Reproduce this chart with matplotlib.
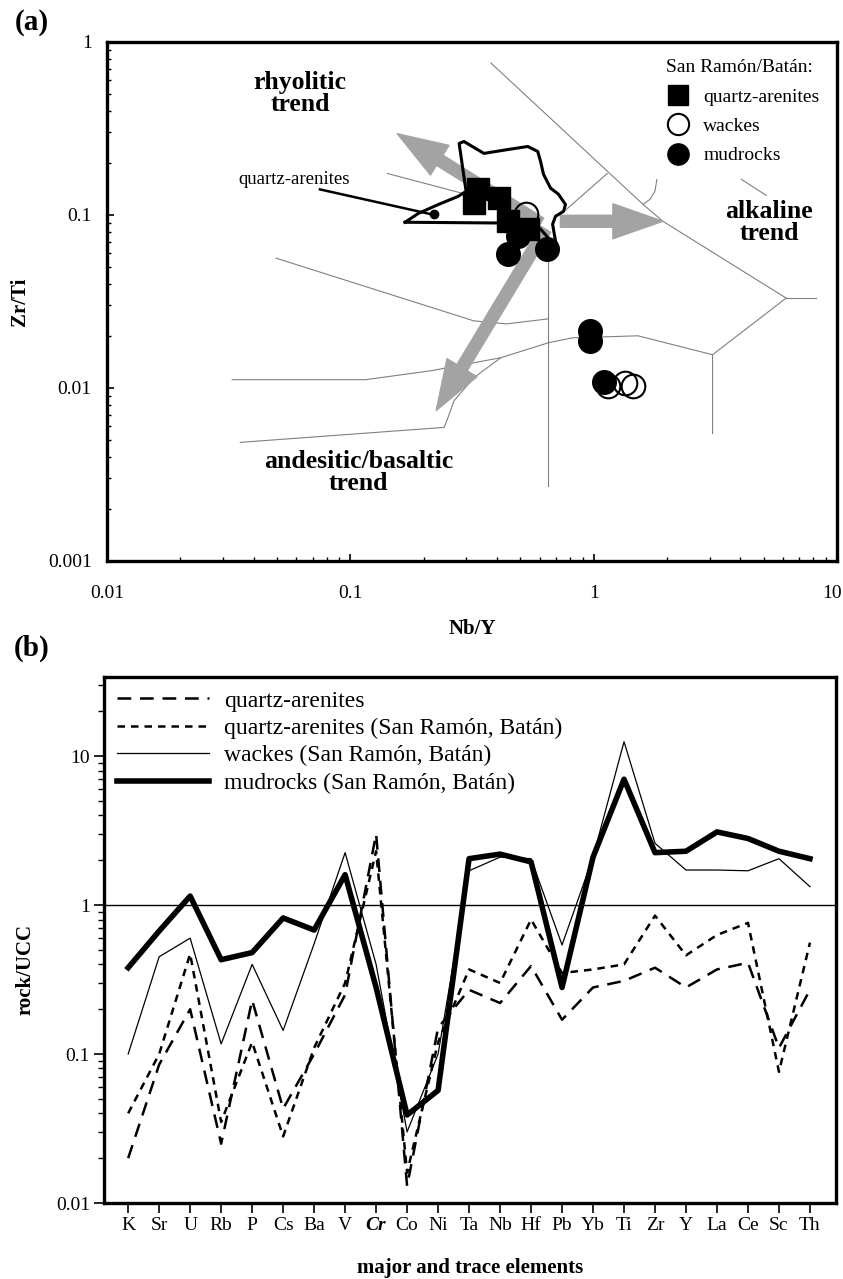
import matplotlib.pyplot as plt
import matplotlib.transforms as mtransforms
from matplotlib.ticker import FixedLocator, FixedFormatter, LogLocator, NullFormatter

plt.rcParams['font.family'] = ['Liberation Serif', 'DejaVu Serif']

# ---------------- (a) Nb/Y vs Zr/Ti ----------------
qa_nby = [0.334, 0.407, 0.322, 0.444, 0.536]
qa_zrti = [0.141, 0.125, 0.117, 0.092, 0.083]
wk_nby = [0.525, 1.15, 1.35, 1.45]
wk_zrti = [0.102, 0.0103, 0.0107, 0.0103]
md_nby = [0.488, 0.444, 0.645, 0.968, 0.968, 1.10]
md_zrti = [0.0754, 0.0594, 0.0635, 0.0214, 0.0188, 0.0109]

# average quartz-arenite and its field
qa_avg_nby = [0.221]
qa_avg_zrti = [0.101]
field_nby = [0.168, 0.190, 0.230, 0.277, 0.299, 0.280, 0.293, 0.354, 0.444, 0.536, 0.589, 0.605,
             0.622, 0.665, 0.716, 0.766, 0.752, 0.697, 0.678, 0.697, 0.716, 0.605, 0.551, 0.168]
field_zrti = [0.0908, 0.102, 0.115, 0.128, 0.137, 0.259, 0.266, 0.227, 0.239, 0.249, 0.233, 0.204,
              0.172, 0.143, 0.132, 0.115, 0.105, 0.0983, 0.0884, 0.0706, 0.0635, 0.0828, 0.0896, 0.0908]
leader_nby = [0.075, 0.215]
leader_zrti = [0.1406, 0.101]

# field boundaries of the diagram
bnd_upper_x = [0.378, 1.595, 1.925, 6.18]
bnd_upper_y = [0.757, 0.1152, 0.0920, 0.0331]
bnd_alk_x = [6.18, 8.20]
bnd_alk_y = [0.0331, 0.0331]
bnd_right_x = [6.18, 3.08, 3.08]
bnd_right_y = [0.0331, 0.01557, 0.00546]
bnd_lower_x = [3.08, 1.521, 0.818, 0.652, 0.415, 0.322, 0.267, 0.252, 0.243, 0.0353]
bnd_lower_y = [0.01557, 0.02003, 0.0195, 0.01826, 0.01496, 0.01148, 0.00846, 0.00675, 0.00592, 0.00485]
bnd_and_x = [0.0327, 0.1155, 0.215, 0.415]
bnd_and_y = [0.01117, 0.01117, 0.01259, 0.01496]
bnd_mid_x = [0.0495, 0.322, 0.439, 0.652]
bnd_mid_y = [0.0563, 0.02443, 0.02348, 0.0251]
bnd_vert_x = [0.652, 0.652]
bnd_vert_y = [0.0602, 0.00271]
bnd_rhy_x = [0.142, 0.55]
bnd_rhy_y = [0.1738, 0.105]
bnd_tr_x = [1.137, 0.765]
bnd_tr_y = [0.1738, 0.1064]
bnd_arc_x = [1.819, 1.785, 1.703, 1.595]
bnd_arc_y = [0.1605, 0.1369, 0.1231, 0.1152]
bnd_ph_x = [4.05, 5.12]
bnd_ph_y = [0.1605, 0.1299]

boundaries = [(bnd_upper_x, bnd_upper_y), (bnd_alk_x, bnd_alk_y), (bnd_right_x, bnd_right_y),
              (bnd_lower_x, bnd_lower_y), (bnd_and_x, bnd_and_y), (bnd_mid_x, bnd_mid_y),
              (bnd_vert_x, bnd_vert_y), (bnd_rhy_x, bnd_rhy_y), (bnd_tr_x, bnd_tr_y),
              (bnd_arc_x, bnd_arc_y), (bnd_ph_x, bnd_ph_y)]

# trend arrows (start, end)
arrow_start = [(0.605, 0.0896), (0.730, 0.092), (0.634, 0.0828)]
arrow_end = [(0.156, 0.295), (1.925, 0.092), (0.2253, 0.00741)]

# ---------------- (b) UCC-normalised patterns ----------------
elements = ['K', 'Sr', 'U', 'Rb', 'P', 'Cs', 'Ba', 'V', 'Cr', 'Co', 'Ni', 'Ta', 'Nb', 'Hf',
            'Pb', 'Yb', 'Ti', 'Zr', 'Y', 'La', 'Ce', 'Sc', 'Th']
qa_ref = [0.02, 0.085, 0.20, 0.025, 0.23, 0.043, 0.10, 0.25, 3.0, 0.013, 0.15, 0.27, 0.22, 0.39,
          0.17, 0.28, 0.31, 0.38, 0.28, 0.37, 0.41, 0.11, 0.27]
qa_srb = [0.04, 0.10, 0.47, 0.035, 0.12, 0.028, 0.11, 0.30, 2.3, 0.016, 0.12, 0.37, 0.30, 0.80,
          0.35, 0.37, 0.40, 0.85, 0.46, 0.63, 0.76, 0.076, 0.56]
wk_srb = [0.10, 0.45, 0.60, 0.117, 0.40, 0.144, 0.55, 2.25, 0.40, 0.03, 0.10, 1.7, 2.1, 2.05,
          0.54, 2.1, 12.5, 2.6, 1.72, 1.72, 1.70, 2.05, 1.33]
md_srb = [0.38, 0.67, 1.15, 0.43, 0.48, 0.82, 0.68, 1.6, 0.28, 0.039, 0.057, 2.05, 2.2, 1.95,
          0.28, 2.1, 7.0, 2.25, 2.3, 3.1, 2.8, 2.3, 2.05]

fig = plt.figure(figsize=(8.43, 12.79), dpi=100)
ax1 = fig.add_axes([107/843, 1-561/1279, 730/843, 519/1279])
ax2 = fig.add_axes([104/843, 1-1203/1279, 732/843, 526/1279])

# ---- panel (a)
for bx, by in boundaries:
    ax1.plot(bx, by, color='#808080', lw=0.8, zorder=1)

for s, e in zip(arrow_start, arrow_end):
    ax1.annotate('', xy=e, xytext=s,
                 arrowprops=dict(arrowstyle='simple,head_length=1.5,head_width=1.05,tail_width=0.36',
                                 color='#a3a3a3', shrinkA=0, shrinkB=0, mutation_scale=24),
                 zorder=2)

ax1.plot(field_nby, field_zrti, color='black', lw=2.2, solid_joinstyle='round', zorder=3)
ax1.plot(qa_avg_nby, qa_avg_zrti, 'o', color='black', ms=6, zorder=3)
ax1.plot(leader_nby, leader_zrti, color='black', lw=1.8, zorder=3)
ax1.text(0.0586, 0.1606, 'quartz-arenites', ha='center', va='center', fontsize=13.5)

ax1.plot(qa_nby, qa_zrti, 's', color='black', ms=16, zorder=4, label='quartz-arenites')
ax1.plot(md_nby, md_zrti, 'o', color='black', ms=17, zorder=5, label='mudrocks')
ax1.plot(wk_nby, wk_zrti, 'o', mfc='none', mec='black', mew=1.5, ms=17, zorder=6, label='wackes')

ax1.text(0.0621, 0.502, 'rhyolitic\ntrend', ha='center', va='center', fontsize=18.5,
         fontweight='bold', linespacing=0.95)
ax1.text(5.27, 0.0908, 'alkaline\ntrend', ha='center', va='center', fontsize=18.5,
         fontweight='bold', linespacing=0.95)
ax1.text(0.108, 0.00326, 'andesitic/basaltic\ntrend', ha='center', va='center', fontsize=18.5,
         fontweight='bold', linespacing=0.95)

ax1.set_xscale('log')
ax1.set_yscale('log')
ax1.set_xlim(0.01, 10)
ax1.set_ylim(0.001, 1)
ax1.xaxis.set_major_locator(FixedLocator([0.01, 0.1, 1, 10]))
ax1.xaxis.set_major_formatter(FixedFormatter(['0.01', '0.1', '1', '10']))
ax1.yaxis.set_major_locator(FixedLocator([0.001, 0.01, 0.1, 1]))
ax1.yaxis.set_major_formatter(FixedFormatter(['0.001', '0.01', '0.1', '1']))
for axis in (ax1.xaxis, ax1.yaxis):
    axis.set_minor_locator(LogLocator(base=10, subs=range(2, 10)))
    axis.set_minor_formatter(NullFormatter())
ax1.tick_params(which='major', direction='in', length=5, width=1.2, labelsize=14)
ax1.tick_params(axis='x', which='major', pad=17)
ax1.tick_params(axis='y', which='major', pad=11)
ax1.tick_params(which='minor', direction='in', length=3, width=1.0)
for sp in ax1.spines.values():
    sp.set_linewidth(2.4)
# keep the "10" label inside the figure
fig.canvas.draw()
last = ax1.get_xticklabels()[-1]
last.set_transform(last.get_transform() + mtransforms.ScaledTranslation(-5/100, 0, fig.dpi_scale_trans))

ax1.set_xlabel('Nb/Y', fontsize=15, fontweight='bold')
ax1.xaxis.set_label_coords(0.5, -0.112)
ax1.set_ylabel('Zr/Ti', fontsize=15, fontweight='bold')
ax1.yaxis.set_label_coords(-0.105, 0.5)

h, l = ax1.get_legend_handles_labels()
order = [0, 2, 1]
ax1.legend([h[i] for i in order], [l[i] for i in order], title='San Ramón/Batán:',
           loc='upper right', frameon=False, fontsize=14, title_fontsize=14,
           markerscale=0.9, handletextpad=0.3, labelspacing=0.6, borderaxespad=0.5)

# ---- panel (b)
x = list(range(len(elements)))
ax2.axhline(1, color='black', lw=1.0, zorder=1)
ax2.plot(x, qa_ref, color='black', lw=1.8, dashes=(5.5, 3.5), zorder=2, label='quartz-arenites')
ax2.plot(x, qa_srb, color='black', lw=1.8, dashes=(3.0, 2.4), zorder=2,
         label='quartz-arenites (San Ramón, Batán)')
ax2.plot(x, wk_srb, color='black', lw=0.9, zorder=3, label='wackes (San Ramón, Batán)')
ax2.plot(x, md_srb, color='black', lw=4.0, zorder=4, label='mudrocks (San Ramón, Batán)')

ax2.set_yscale('log')
ax2.set_ylim(0.01, 34)
ax2.set_xlim(-0.78, 22.84)
ax2.yaxis.set_major_locator(FixedLocator([0.01, 0.1, 1, 10]))
ax2.yaxis.set_major_formatter(FixedFormatter(['0.01', '0.1', '1', '10']))
ax2.yaxis.set_minor_locator(LogLocator(base=10, subs=range(2, 10)))
ax2.yaxis.set_minor_formatter(NullFormatter())
ax2.set_xticks(x)
ax2.set_xticklabels(elements)
ax2.get_xticklabels()[8].set_fontweight('bold')
ax2.get_xticklabels()[8].set_fontstyle('italic')
ax2.tick_params(which='major', direction='out', length=7, width=1.2, labelsize=14, pad=3)
ax2.tick_params(which='minor', direction='out', length=4, width=1.0)
for sp in ax2.spines.values():
    sp.set_linewidth(2.4)
ax2.set_xlabel('major and trace elements', fontsize=15, fontweight='bold')
ax2.xaxis.set_label_coords(0.5, -0.104)
ax2.set_ylabel('rock/UCC', fontsize=15, fontweight='bold')
ax2.yaxis.set_label_coords(-0.094, 0.443)
ax2.legend(loc='upper left', frameon=False, fontsize=17, handlelength=3.9,
           handletextpad=0.65, labelspacing=0.25, borderaxespad=0.15)

fig.text(32/843, 1-23/1279, '(a)', fontsize=21, fontweight='bold', ha='center', va='center')
fig.text(32/843, 1-648/1279, '(b)', fontsize=21, fontweight='bold', ha='center', va='center')

fig.savefig('out.png', dpi=100)
